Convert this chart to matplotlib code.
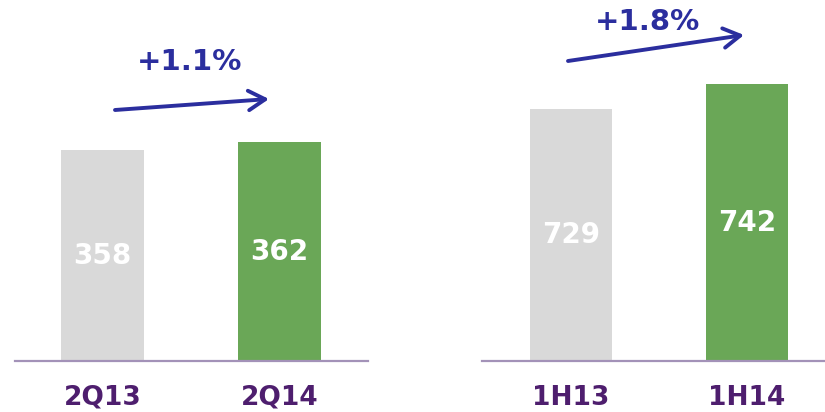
import matplotlib.pyplot as plt

# data
left_cats = ["2Q13", "2Q14"]
left_vals = [358, 362]
left_growth = "+1.1%"
right_cats = ["1H13", "1H14"]
right_vals = [729, 742]
right_growth = "+1.8%"

colors = ["#D9D9D9", "#6AA757"]
purple = "#4E1E6E"
navy = "#2B2E9E"
W, H = 825, 412

plt.rcParams["font.family"] = ["DejaVu Sans"]
fig = plt.figure(figsize=(W / 100, H / 100), dpi=100)


def px_axes(x0, x1, base):
    # axes placed in pixel coords (y measured from top)
    return fig.add_axes([x0 / W, (H - base) / H, (x1 - x0) / W, base / H])


def draw_panel(ax, cats, vals, xlim, ylim):
    xs = range(len(cats))
    ax.bar(xs, vals, width=0.47, color=colors, zorder=2)
    ax.set_xlim(*xlim)
    ax.set_ylim(*ylim)
    for x, v in zip(xs, vals):
        ax.text(x, (ylim[0] + v) / 2, str(v), ha="center", va="center",
                color="white", fontsize=20, fontweight="bold")
    ax.set_xticks(list(xs))
    ax.set_xticklabels(cats, fontsize=19, fontweight="bold", color=purple)
    ax.tick_params(axis="x", length=0, pad=17)
    ax.set_yticks([])
    for s in ["top", "right", "left"]:
        ax.spines[s].set_visible(False)
    ax.spines["bottom"].set_color("#A392B8")
    ax.spines["bottom"].set_linewidth(1.6)
    ax.patch.set_alpha(0)


ax1 = px_axes(15, 368, 361)
draw_panel(ax1, left_cats, left_vals, (-0.494, 1.5), (252.5, 433))
ax2 = px_axes(482, 825, 361)
draw_panel(ax2, right_cats, right_vals, (-0.506, 1.443), (598, 785.7))


def growth(txt, tx, ty, a0, a1):
    fig.text(tx / W, 1 - ty / H, txt, ha="center", va="center",
             fontsize=21, fontweight="bold", color=navy)
    fig.add_artist(plt.matplotlib.patches.FancyArrowPatch(
        (a0[0] / W, 1 - a0[1] / H), (a1[0] / W, 1 - a1[1] / H),
        transform=fig.transFigure, arrowstyle="->,head_length=12,head_width=7",
        mutation_scale=1, color=navy, lw=2.8, shrinkA=0, shrinkB=0))


growth(left_growth, 190, 62, (115, 110), (269, 99))
growth(right_growth, 647, 22, (568, 61), (744, 35))

fig.savefig("out.png", dpi=100)
